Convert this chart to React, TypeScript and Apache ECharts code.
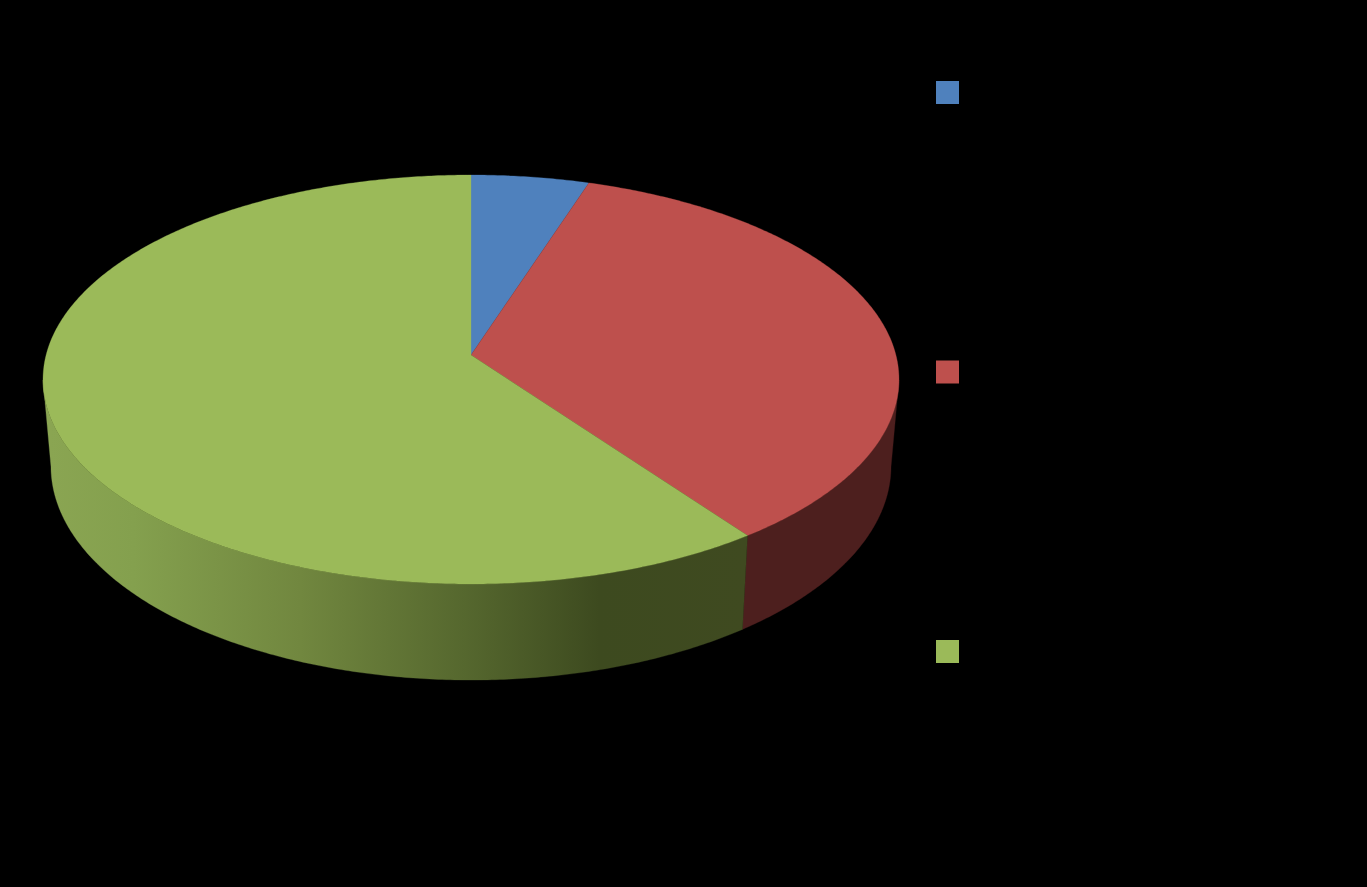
import React, { useEffect, useRef } from "react";
import * as echarts from "echarts";

const sliceNames = ["Slice 1", "Slice 2", "Slice 3"];
const sliceValues = [5, 35, 60];
const topColors = ["#4F81BD", "#BE504D", "#9BBA59"];

// projection of the disc's upper and lower faces (perspective view)
const topFace = { cx: 471, cy: 355, a: 424.9, b: 201.56, k: -0.1198 };
const bottomFace = { cx: 471, cy: 440.5, a: 417, b: 210.8, k: -0.12 };
const wallFrom = 97; // widest visible angle on the right, degrees clockwise from top
const wallTo = 263; // widest visible angle on the left

type Face = typeof topFace;

function project(f: Face, deg: number): number[] {
  const t = (deg * Math.PI) / 180;
  const u = Math.sin(t);
  const v = -Math.cos(t);
  const w = 1 + f.k * v;
  return [f.cx + (f.a * u) / w, f.cy + (f.b * v) / w];
}

function arc(f: Face, from: number, to: number): number[][] {
  const n = Math.max(2, Math.ceil(Math.abs(to - from) * 2));
  const pts: number[][] = [];
  for (let i = 0; i <= n; i++) pts.push(project(f, from + ((to - from) * i) / n));
  return pts;
}

function wallFill(index: number): any {
  if (index === 1) return "#4D1F1E";
  return new echarts.graphic.LinearGradient(
    50,
    0,
    745,
    0,
    [
      { offset: 0, color: "#8AA552" },
      { offset: 0.12, color: "#84A04E" },
      { offset: 0.36, color: "#71873F" },
      { offset: 0.6, color: "#55672E" },
      { offset: 0.79, color: "#3D4A1F" },
      { offset: 1, color: "#3F4A20" },
    ],
    true
  );
}

const total = sliceValues.reduce((s, v) => s + v, 0);

function makeSeries(index: number) {
  return {
    type: "custom",
    name: sliceNames[index],
    coordinateSystem: "none",
    itemStyle: { color: topColors[index] },
    data: [[sliceValues[index]]],
    silent: true,
    renderItem: () => {
      const before = sliceValues.slice(0, index).reduce((s, v) => s + v, 0);
      const start = (before / total) * 360;
      const end = ((before + sliceValues[index]) / total) * 360;
      const children: any[] = [];
      const wa = Math.max(start, wallFrom);
      const wb = Math.min(end, wallTo);
      if (wb > wa) {
        const fill = wallFill(index);
        children.push({
          type: "polygon",
          shape: { points: [...arc(topFace, wa, wb), ...arc(bottomFace, wb, wa)] },
          style: { fill, stroke: fill, lineWidth: 0.3 },
        });
      }
      children.push({
        type: "polygon",
        shape: { points: [[topFace.cx, topFace.cy], ...arc(topFace, start, end)] },
        style: { fill: topColors[index], stroke: topColors[index], lineWidth: 0.3 },
      });
      return { type: "group", children };
    },
  };
}

export default function App() {
  const ref = useRef<HTMLDivElement>(null);
  useEffect(() => {
    document.body.style.margin = "0";
    document.body.style.background = "#000";
    const chart = echarts.init(ref.current!, null, { renderer: "svg" });
    chart.setOption({
      animation: false,
      backgroundColor: "#000000",
      legend: {
        show: true,
        orient: "vertical",
        left: 936,
        top: 81,
        padding: 0,
        itemWidth: 23,
        itemHeight: 23,
        itemGap: 256.5,
        icon: "rect",
        selectedMode: false,
        formatter: () => "",
        textStyle: { color: "#000000" },
        data: sliceNames,
      },
      series: sliceNames.map((_, i) => makeSeries(i)),
    });
    return () => chart.dispose();
  }, []);
  return <div ref={ref} style={{ width: 1367, height: 887 }} />;
}
